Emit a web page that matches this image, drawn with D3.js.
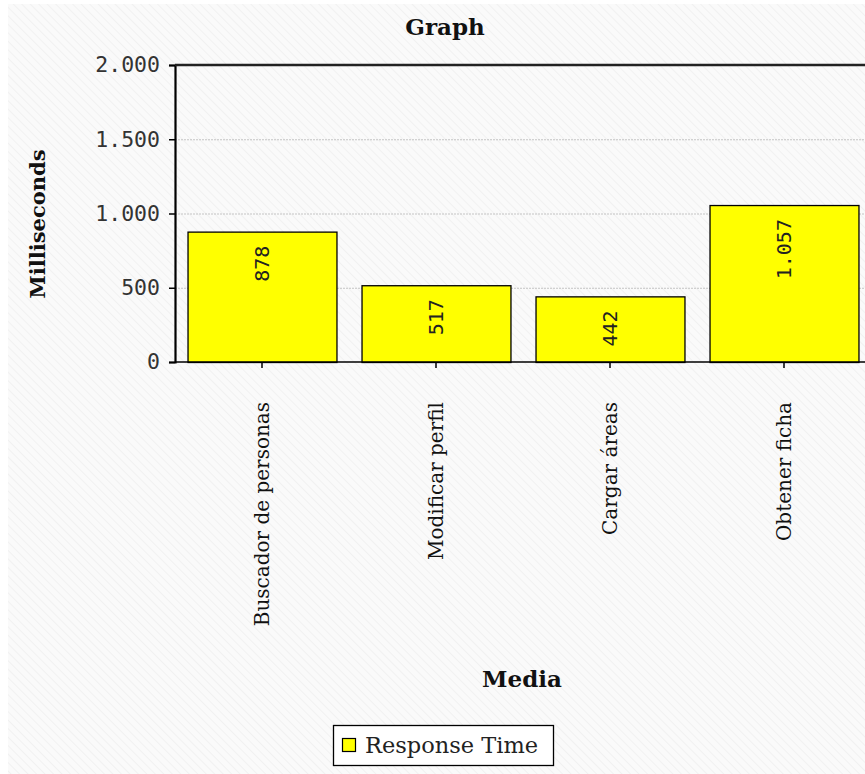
<!DOCTYPE html>
<html>
<head>
<meta charset="utf-8">
<script src="https://cdn.jsdelivr.net/npm/d3@7"></script>
<style>
  html, body { margin: 0; padding: 0; background: #fff; }
  svg { display: block; }
</style>
</head>
<body>
<div id="chart"></div>
<script>
// Chart data
const categories = ['Buscador de personas', 'Modificar perfil', 'Cargar áreas', 'Obtener ficha'];
const responseTimes = [878, 517, 442, 1057];
const yTicks = [0, 500, 1000, 1500, 2000];
const seriesName = 'Response Time';

const width = 865;
const height = 774;
const margin = { top: 65, left: 175, bottom: 362 };

const serif = '"DejaVu Serif", "Liberation Serif", serif';
const mono = '"DejaVu Sans Mono", "Liberation Mono", monospace';

// thousands separator is a dot in the picture
const fmt = d3.formatLocale({ decimal: ',', thousands: '.', grouping: [3], currency: ['', ''] }).format(',d');

const svg = d3.select('#chart')
    .append('svg')
    .attr('width', width)
    .attr('height', height);

// faint diagonal hatch background
const defs = svg.append('defs');
const pat = defs.append('pattern')
    .attr('id', 'hatch')
    .attr('patternUnits', 'userSpaceOnUse')
    .attr('width', 6)
    .attr('height', 6)
    .attr('patternTransform', 'rotate(-45)');
pat.append('rect').attr('width', 6).attr('height', 6).attr('fill', '#fafafa');
pat.append('line')
    .attr('x1', 0).attr('y1', 0).attr('x2', 0).attr('y2', 6)
    .attr('stroke', '#f1f1f1')
    .attr('stroke-width', 2);

svg.append('rect')
    .attr('x', 8).attr('y', 4)
    .attr('width', width - 8).attr('height', height - 4)
    .attr('fill', 'url(#hatch)');

// scales
const x = d3.scaleBand()
    .domain(categories)
    .range([margin.left, margin.left + 4 * 174])
    .paddingInner(0.144)
    .paddingOuter(0.072);

const y = d3.scaleLinear()
    .domain([0, 2000])
    .range([margin.bottom, margin.top]);

// gridlines
svg.append('g')
    .selectAll('line')
    .data(yTicks.filter(d => d > 0 && d < 2000))
    .enter()
    .append('line')
    .attr('x1', margin.left)
    .attr('x2', width)
    .attr('y1', d => y(d) + 0.5)
    .attr('y2', d => y(d) + 0.5)
    .attr('stroke', '#c4c4c4')
    .attr('stroke-width', 1)
    .attr('stroke-dasharray', '2,1');

// bars
svg.append('g')
    .selectAll('rect')
    .data(responseTimes)
    .enter()
    .append('rect')
    .attr('x', (d, i) => x(categories[i]) + 0.5)
    .attr('y', d => y(d) + 0.5)
    .attr('width', x.bandwidth())
    .attr('height', d => y(0) - y(d))
    .attr('fill', '#ffff00')
    .attr('stroke', '#000')
    .attr('stroke-width', 1.3);

// value labels inside bars
svg.append('g')
    .selectAll('text')
    .data(responseTimes)
    .enter()
    .append('text')
    .attr('transform', (d, i) => `translate(${x(categories[i]) + x.bandwidth() / 2 + 7},${y(d) + 14}) rotate(-90)`)
    .attr('text-anchor', 'end')
    .attr('font-family', mono)
    .attr('font-size', 20)
    .attr('fill', '#222')
    .text(d => fmt(d));

// y axis
const yAxis = svg.append('g')
    .attr('transform', `translate(${margin.left},0)`)
    .call(d3.axisLeft(y).tickValues(yTicks).tickFormat(fmt).tickSize(6).tickPadding(9));
yAxis.select('.domain').attr('stroke', '#000').attr('stroke-width', 2.2);
yAxis.selectAll('.tick line').attr('stroke', '#000').attr('stroke-width', 1.5);
yAxis.selectAll('.tick text')
    .attr('font-family', mono)
    .attr('font-size', 21.5)
    .attr('fill', '#333');

// top border of plot
svg.append('line')
    .attr('x1', margin.left).attr('x2', width)
    .attr('y1', margin.top).attr('y2', margin.top)
    .attr('stroke', '#222')
    .attr('stroke-width', 2.5);

// x axis
const xAxis = svg.append('g')
    .attr('transform', `translate(0,${margin.bottom})`)
    .call(d3.axisBottom(x).tickSize(6).tickPadding(10));
xAxis.select('.domain').attr('stroke', '#000').attr('stroke-width', 1.5)
    .attr('d', `M${margin.left},0H${width}`);
xAxis.selectAll('.tick line').attr('stroke', '#000').attr('stroke-width', 1.5);
xAxis.selectAll('.tick text')
    .attr('font-family', serif)
    .attr('font-size', 20)
    .attr('fill', '#111')
    .attr('text-anchor', 'end')
    .attr('transform', 'translate(7,40) rotate(-90)')
    .attr('dy', 0)
    .attr('x', 0)
    .attr('y', 0);

// titles
svg.append('text')
    .attr('x', 445).attr('y', 35)
    .attr('text-anchor', 'middle')
    .attr('font-family', serif)
    .attr('font-weight', 'bold')
    .attr('font-size', 23)
    .attr('fill', '#111')
    .text('Graph');

svg.append('text')
    .attr('transform', 'translate(45,224) rotate(-90)')
    .attr('text-anchor', 'middle')
    .attr('font-family', serif)
    .attr('font-weight', 'bold')
    .attr('font-size', 21)
    .attr('fill', '#111')
    .text('Milliseconds');

svg.append('text')
    .attr('x', 522).attr('y', 687)
    .attr('text-anchor', 'middle')
    .attr('font-family', serif)
    .attr('font-weight', 'bold')
    .attr('font-size', 23)
    .attr('fill', '#111')
    .text('Media');

// legend
const legend = svg.append('g').attr('transform', 'translate(333,725)');
legend.append('rect')
    .attr('x', 0.5).attr('y', 0.5)
    .attr('width', 220).attr('height', 40)
    .attr('fill', '#fff')
    .attr('stroke', '#000')
    .attr('stroke-width', 1.3);
legend.append('rect')
    .attr('x', 9.5).attr('y', 13.5)
    .attr('width', 13).attr('height', 13)
    .attr('fill', '#ffff00')
    .attr('stroke', '#000')
    .attr('stroke-width', 1.2);
legend.append('text')
    .attr('x', 32).attr('y', 28)
    .attr('font-family', serif)
    .attr('font-size', 22.5)
    .attr('fill', '#222')
    .text(seriesName);
</script>
</body>
</html>
